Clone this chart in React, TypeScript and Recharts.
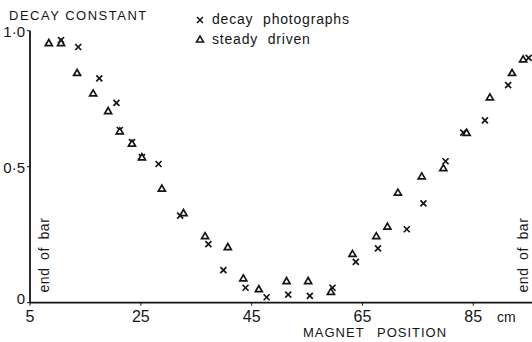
import React from 'react';
import { ScatterChart, Scatter, XAxis, YAxis } from 'recharts';

// Decay photographs (×)
const decayPos = [10.6, 13.7, 17.5, 20.6, 21.2, 23.4, 25.2, 28.2, 32.1, 37.2, 39.9, 43.9, 47.7, 51.6, 55.5, 59.6, 63.8, 67.8, 73.0, 76.0, 80.0, 83.2, 87.1, 91.3, 95.0];
const decayVal = [0.965, 0.94, 0.825, 0.735, 0.635, 0.59, 0.535, 0.51, 0.32, 0.215, 0.12, 0.055, 0.02, 0.03, 0.025, 0.055, 0.15, 0.2, 0.27, 0.365, 0.52, 0.625, 0.67, 0.8, 0.9];

// Steady driven (triangles)
const steadyPos = [8.4, 10.6, 13.5, 16.4, 19.1, 21.2, 23.4, 25.2, 28.8, 32.7, 36.6, 40.7, 43.5, 46.3, 51.3, 55.2, 59.3, 63.2, 67.5, 69.5, 71.4, 75.7, 79.6, 83.8, 88.0, 92.0, 94.0];
const steadyVal = [0.955, 0.955, 0.845, 0.77, 0.705, 0.63, 0.585, 0.535, 0.42, 0.33, 0.245, 0.205, 0.09, 0.05, 0.08, 0.08, 0.04, 0.18, 0.245, 0.28, 0.405, 0.465, 0.495, 0.625, 0.755, 0.845, 0.895];

const xTicks = [5, 25, 45, 65, 85];
const yTicks = [0, 0.5, 1];
const yTickLabels: Record<string, string> = { '0': '0', '0.5': '0·5', '1': '1·0' };

const decayData = decayPos.map((x, i) => ({ x, y: decayVal[i] }));
const steadyData = steadyPos.map((x, i) => ({ x, y: steadyVal[i] }));

const FONT = '"Liberation Sans", Arial, sans-serif';
const INK = '#151515';

const Cross = (props: any) => {
  const { cx, cy } = props;
  const s = 3;
  return (
    <g stroke={INK} strokeWidth={1.7}>
      <line x1={cx - s} y1={cy - s} x2={cx + s} y2={cy + s} />
      <line x1={cx - s} y1={cy + s} x2={cx + s} y2={cy - s} />
    </g>
  );
};

const Tri = (props: any) => {
  const { cx, cy } = props;
  return (
    <polygon
      points={`${cx},${cy - 3.4} ${cx + 3.5},${cy + 2.6} ${cx - 3.5},${cy + 2.6}`}
      fill="#fff"
      stroke={INK}
      strokeWidth={1.7}
    />
  );
};

const YTick = (props: any) => {
  const { x, y, payload } = props;
  const v = payload.value;
  const label = yTickLabels[String(v)] ?? String(v);
  return (
    <text x={x} y={y + (v === 0 ? -4 : 1)} textAnchor="end" dominantBaseline="central" fontFamily={FONT} fontSize={15} fill={INK}>
      {label}
    </text>
  );
};

const XTick = (props: any) => {
  const { x, y, payload } = props;
  return (
    <text x={x} y={y + 14} textAnchor="middle" fontFamily={FONT} fontSize={16} fill={INK}>
      {payload.value}
    </text>
  );
};

export default function App() {
  return (
    <div style={{ position: 'absolute', left: 0, top: 0, width: 532, height: 342, background: '#fff' }}>
      <ScatterChart width={532} height={342} margin={{ top: 30.7, right: 0, left: 0, bottom: 0 }}>
        <XAxis
          type="number"
          dataKey="x"
          domain={[5, 95.6]}
          ticks={xTicks}
          height={39.3}
          axisLine={{ stroke: INK, strokeWidth: 1.8 }}
          tickLine={{ stroke: INK }}
          tickSize={3}
          tickMargin={2}
          tick={<XTick />}
          allowDataOverflow
        />
        <YAxis
          type="number"
          dataKey="y"
          domain={[0, 1]}
          ticks={yTicks}
          width={30}
          axisLine={{ stroke: INK, strokeWidth: 1.8 }}
          tickLine={{ stroke: INK }}
          tickSize={3}
          tickMargin={2}
          tick={<YTick />}
        />
        <Scatter data={decayData} shape={<Cross />} isAnimationActive={false} />
        <Scatter data={steadyData} shape={<Tri />} isAnimationActive={false} />

        <text x={9} y={20} fontFamily={FONT} fontSize={13} letterSpacing={1.5} fill={INK}>DECAY CONSTANT</text>

        <g stroke={INK} strokeWidth={1.5}>
          <line x1={197} y1={17} x2={203} y2={23} />
          <line x1={197} y1={23} x2={203} y2={17} />
        </g>
        <polygon points="200,36 203.5,42 196.5,42" fill="#fff" stroke={INK} strokeWidth={1.5} />
        <text x={212} y={24} fontFamily={FONT} fontSize={14} letterSpacing={0.8} wordSpacing={5} fill={INK}>decay photographs</text>
        <text x={212} y={44} fontFamily={FONT} fontSize={14} letterSpacing={0.8} wordSpacing={5} fill={INK}>steady driven</text>

        <text x={303} y={337} fontFamily={FONT} fontSize={13} letterSpacing={1} wordSpacing={8} fill={INK}>MAGNET POSITION</text>
        <text x={497} y={322} fontFamily={FONT} fontSize={14} fill={INK}>cm</text>

        <text transform="translate(44,255) rotate(-90)" textAnchor="middle" dominantBaseline="central" fontFamily={FONT} fontSize={14} letterSpacing={0.6} wordSpacing={3} fill={INK}>end of bar</text>
        <text transform="translate(523,255) rotate(-90)" textAnchor="middle" dominantBaseline="central" fontFamily={FONT} fontSize={14} letterSpacing={0.6} wordSpacing={3} fill={INK}>end of bar</text>
      </ScatterChart>
    </div>
  );
}
